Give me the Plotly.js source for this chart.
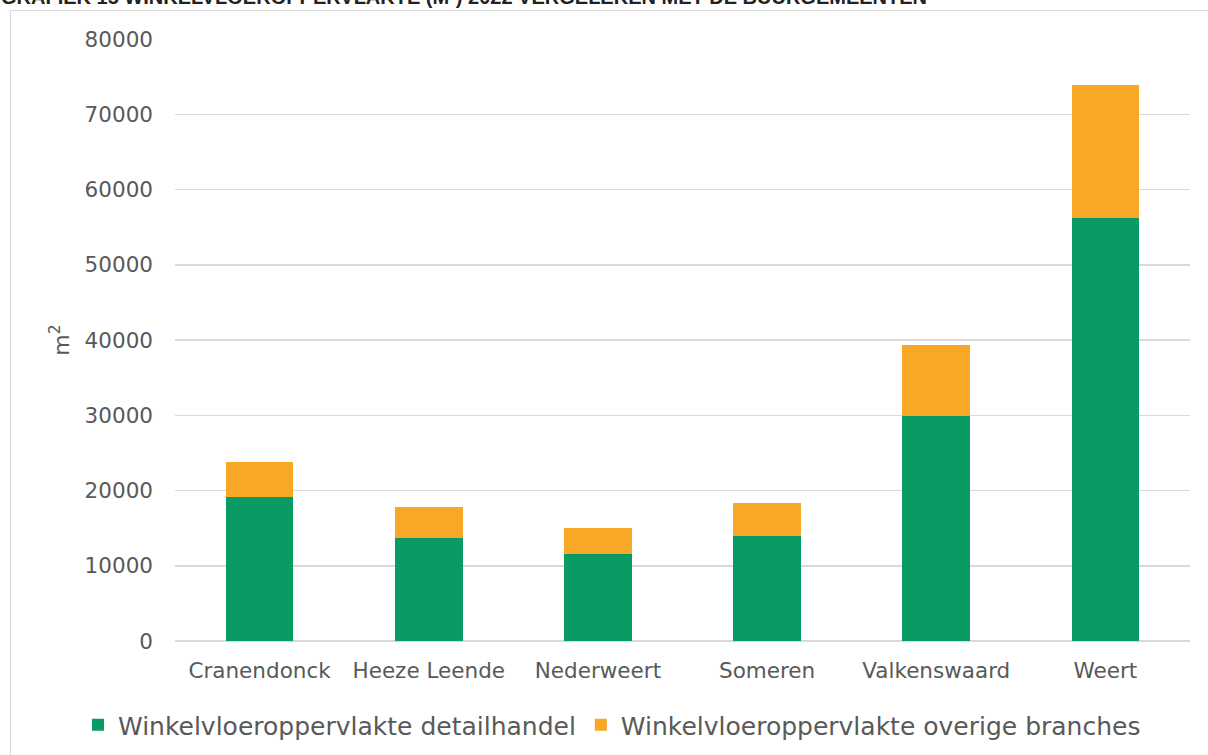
<!DOCTYPE html>
<html>
<head>
<meta charset="utf-8">
<script src="https://cdn.plot.ly/plotly-3.0.1.min.js"></script>
<style>
html,body{margin:0;padding:0;background:#fff;overflow:hidden;}
#chart{width:1208px;height:755px;}
</style>
</head>
<body>
<div id="chart"></div>
<script>
const categories = ["Cranendonck", "Heeze Leende", "Nederweert", "Someren", "Valkenswaard", "Weert"];
const detailhandel = [19200, 13700, 11600, 13900, 29900, 56200];
const overigeTotal = [23800, 17800, 15000, 18300, 39400, 73900];
const overige = overigeTotal.map((t, i) => t - detailhandel[i]);
const seriesNames = ["Winkelvloeroppervlakte detailhandel", "Winkelvloeroppervlakte overige branches"];
const yTicks = [0, 10000, 20000, 30000, 40000, 50000, 60000, 70000, 80000];
const titleText = "GRAFIEK 15 WINKELVLOEROPPERVLAKTE (M²) 2022 VERGELEKEN MET DE BUURGEMEENTEN";

const fontFam = "DejaVu Sans, sans-serif";
const grey = "#595959";

const traces = [
  {type: "bar", name: seriesNames[0], x: categories, y: detailhandel,
   marker: {color: "#099B64"}, hoverinfo: "skip"},
  {type: "bar", name: seriesNames[1], x: categories, y: overige,
   marker: {color: "#F7A826"}, hoverinfo: "skip"}
];

const L = 175, R = 18, T = 39, B = 114;
const W = 1208, H = 755;
const pw = W - L - R, ph = H - T - B;
const px = v => (v - L) / pw;
const py = v => (H - B - v) / ph;

const layout = {
  width: W, height: H,
  margin: {l: L, r: R, t: T, b: B, pad: 0, autoexpand: false},
  paper_bgcolor: "#fff", plot_bgcolor: "#fff",
  barmode: "stack", bargap: 0.6,
  font: {family: fontFam, color: grey, size: 20},
  xaxis: {type: "category", showgrid: false, zeroline: false, showline: false, ticks: "",
          tickfont: {size: 21.5, color: grey}, ticklabelstandoff: 14, fixedrange: true, automargin: false},
  yaxis: {range: [0, 80000], tickvals: yTicks, ticktext: yTicks.map(String),
          showgrid: true, gridcolor: "#d9d9d9", gridwidth: 1.5,
          zeroline: true, zerolinecolor: "#d9d9d9", zerolinewidth: 1.5,
          showline: false, ticks: "", ticklabelstandoff: 21,
          tickfont: {size: 21.5, color: grey},
          title: {text: "m<sup>2</sup>", standoff: 8, font: {size: 22, color: grey}},
          fixedrange: true, automargin: false},
  legend: {orientation: "h", x: px(78), xanchor: "left",
           y: py(725), yanchor: "middle",
           font: {size: 25, color: grey}, itemwidth: 30, traceorder: "normal",
           bgcolor: "rgba(0,0,0,0)"},
  showlegend: true,
  annotations: [{text: "<b>" + titleText + "</b>", xref: "paper", yref: "paper",
                 x: px(-1), xanchor: "left", y: py(0), yanchor: "middle", yshift: 3, showarrow: false,
                 font: {family: "Liberation Sans, sans-serif", size: 20, color: "#222"}}],
  shapes: [{type: "rect", xref: "paper", yref: "paper",
            x0: px(10.5), x1: px(1230), y0: py(790), y1: py(10.5),
            line: {color: "#d9d9d9", width: 1}, fillcolor: "rgba(0,0,0,0)", layer: "below"}]
};

Plotly.newPlot("chart", traces, layout, {displayModeBar: false, staticPlot: true});
</script>
</body>
</html>
